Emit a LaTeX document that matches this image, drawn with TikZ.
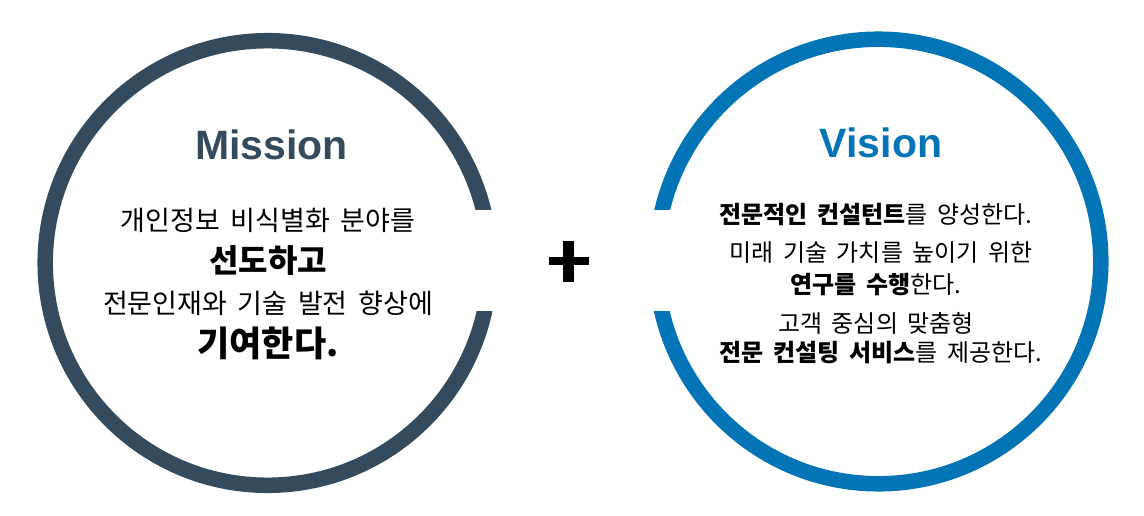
\documentclass[tikz,border=0pt]{standalone}
\usepackage{fontspec}
\usepackage{xcolor}
\usepackage{tikz}
\setmainfont{Liberation Sans}
\newfontfamily\kr{Noto Sans CJK KR}[WordSpace=0.9]
\newfontfamily\krwide{Noto Sans CJK KR}[WordSpace=1.75]
\definecolor{slate}{HTML}{344B5E}
\definecolor{ocean}{HTML}{0374B5}
\tikzset{ring/.style={line width=15.5pt},
	head/.style={anchor=base, font=\bfseries\fontsize{41}{41}\selectfont},
	mtext/.style={font=\krwide\fontsize{27}{27}\selectfont},
	mbold/.style={font=\krwide\bfseries\fontsize{32}{32}\selectfont},
	vtext/.style={font=\kr\fontsize{24}{24}\selectfont}}

\begin{document}
\begin{tikzpicture}[x=1pt, y=-1pt, inner sep=0pt]
		\useasboundingbox (0,0) rectangle (1144,516);
		\foreach \cx/\cy/\gx/\col in {267.5/263/530/slate, 878.5/261.5/620/ocean} {
			\begin{scope}[even odd rule]
				\clip (0,0) rectangle (1144,516) (\cx,210) rectangle (\gx,311);
				\draw[ring, \col] (\cx,\cy) circle[radius=222.3pt];
			\end{scope}
		}
		\node[head, slate] (mtitle) at (271.5,160) {Mission};
		\node[mtext] (mline1) at (268,220) {개인정보 비식별화 분야를};
		\node[mbold] (mline2) at (268,261) {선도하고};
		\node[mtext] (mline3) at (268,303) {전문인재와 기술 발전 향상에};
		\node[mbold, font=\krwide\bfseries\fontsize{35}{35}\selectfont] (mline4) at (268,343) {기여한다.};
		\fill (549,257) rectangle (589,265.3);
		\fill (563.3,240.7) rectangle (574.3,281.7);
		\node[head, ocean] (vtitle) at (881,158) {Vision};
		\node[vtext] (vline1) at (876,215) {{\bfseries 전문적인 컨설턴트}를 양성한다.};
		\node[vtext] (vline2) at (881,253) {미래 기술 가치를 높이기 위한};
		\node[vtext] (vline3) at (876,285) {{\bfseries 연구를 수행}한다.};
		\node[vtext] (vline4) at (876,323) {고객 중심의 맞춤형};
		\node[vtext] (vline5) at (881,353) {{\bfseries 전문 컨설팅 서비스}를 제공한다.};
	\end{tikzpicture}
\end{document}
